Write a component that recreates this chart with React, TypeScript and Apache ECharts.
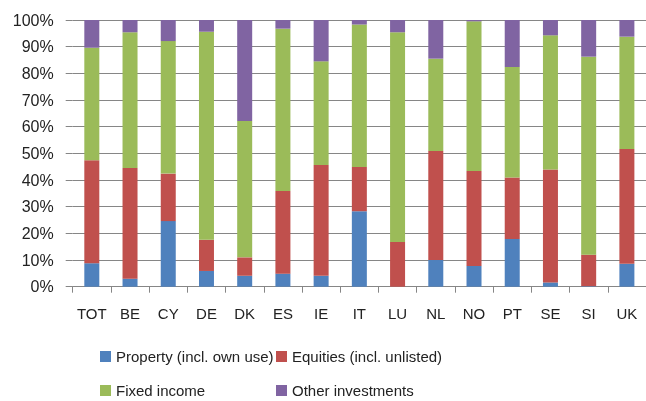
import React, { useEffect, useRef } from "react";
import * as echarts from "echarts";

const categories = ["TOT", "BE", "CY", "DE", "DK", "ES", "IE", "IT", "LU", "NL", "NO", "PT", "SE", "SI", "UK"];
const property = [8.8, 3.0, 24.6, 5.9, 4.1, 4.9, 4.1, 28.3, 0, 10.0, 7.8, 17.9, 1.6, 0.2, 8.6];
const equities = [38.6, 41.5, 17.8, 11.7, 6.9, 31.0, 41.5, 16.6, 16.8, 40.9, 35.6, 23.0, 42.3, 11.8, 43.0];
const fixedIncome = [42.2, 50.9, 49.7, 78.0, 51.1, 60.85, 38.9, 53.4, 78.6, 34.6, 56.1, 41.5, 50.35, 74.25, 42.15];
const other = [10.4, 4.6, 7.9, 4.4, 37.9, 3.25, 15.5, 1.7, 4.6, 14.5, 0.5, 17.6, 5.75, 13.75, 6.25];
const seriesNames = ["Property (incl. own use)", "Equities (incl. unlisted)", "Fixed income", "Other investments"];
const yTicks = [0, 10, 20, 30, 40, 50, 60, 70, 80, 90, 100];

const FONT = "Liberation Sans";
const legendPos = [
  { left: 100, top: 349 },
  { left: 276, top: 349 },
  { left: 100, top: 383 },
  { left: 276, top: 383 },
];

export default function App() {
  const ref = useRef<HTMLDivElement>(null);
  useEffect(() => {
    const chart = echarts.init(ref.current!, null, { renderer: "svg" });
    const colors = ["#4F81BD", "#C0504D", "#9BBB59", "#8064A2"];
    const data = [property, equities, fixedIncome, other];
    chart.setOption({
      animation: false,
      color: colors,
      textStyle: { fontFamily: FONT },
      grid: { left: 72.7, right: -5.6, top: 20, bottom: 114.3, containLabel: false },
      legend: seriesNames.map((name, i) => ({
        data: [name],
        orient: "horizontal",
        left: legendPos[i].left,
        top: legendPos[i].top,
        padding: 0,
        itemWidth: 11,
        itemHeight: 11,
        icon: "rect",
        textStyle: { fontFamily: FONT, fontSize: 15, color: "#222" },
      })),
      xAxis: {
        type: "category",
        data: categories,
        boundaryGap: true,
        axisLine: { show: true, lineStyle: { color: "#868686", width: 1 } },
        axisTick: { show: true, length: 6, lineStyle: { color: "#868686" }, alignWithLabel: false },
        axisLabel: { fontFamily: FONT, fontSize: 15, color: "#222", margin: 19, interval: 0 },
        splitLine: { show: false },
      },
      yAxis: {
        type: "value",
        min: yTicks[0],
        max: yTicks[yTicks.length - 1],
        interval: 10,
        axisLine: { show: false },
        axisTick: { show: true, length: 7, lineStyle: { color: "#868686" } },
        axisLabel: { fontFamily: FONT, fontSize: 16, color: "#222", margin: 19, formatter: "{value}%" },
        splitLine: { show: true, lineStyle: { color: "#868686", width: 1 } },
      },
      series: seriesNames.map((name, i) => ({
        name,
        type: "bar",
        stack: "total",
        barWidth: 15,
        data: data[i],
      })),
    });
    return () => chart.dispose();
  }, []);
  return <div ref={ref} style={{ position: "fixed", left: 0, top: 0, width: 646, height: 401 }} />;
}
